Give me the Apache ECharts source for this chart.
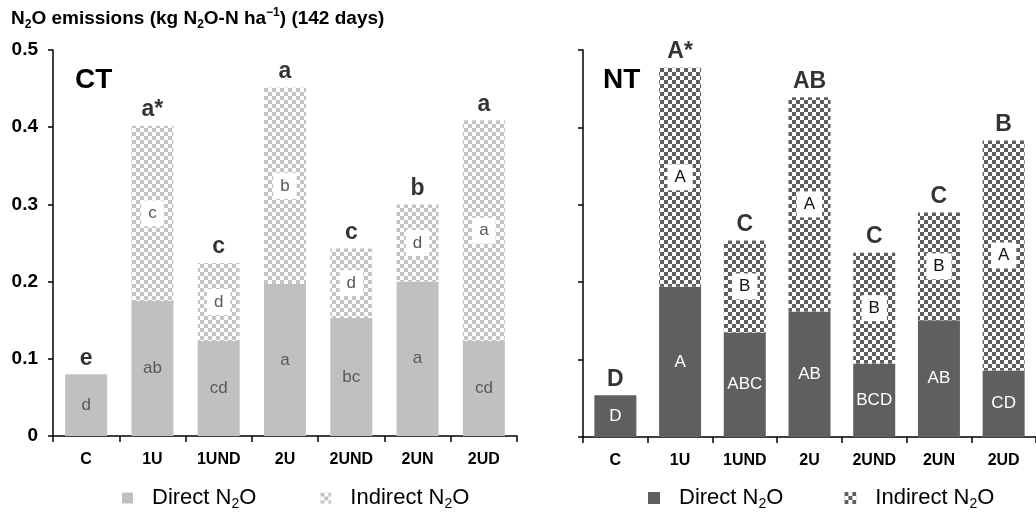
<!DOCTYPE html>
<html>
<head>
<meta charset="utf-8">
<script src="https://cdn.jsdelivr.net/npm/echarts@6/dist/echarts.min.js"></script>
<style>html,body{margin:0;padding:0;background:#fff}#c{width:1036px;height:518px}</style>
</head>
<body>
<div id="c"></div>
<script>
// ---- data ----
const categories = ['C', '1U', '1UND', '2U', '2UND', '2UN', '2UD'];
const ctDirect   = [0.080, 0.175, 0.123, 0.197, 0.153, 0.200, 0.123];
const ctIndirect = [null, 0.227, 0.101, 0.254, 0.090, 0.100, 0.286];
const ntDirect   = [0.054, 0.194, 0.135, 0.162, 0.095, 0.151, 0.086];
const ntIndirect = [null, 0.283, 0.119, 0.277, 0.143, 0.139, 0.297];
const ctTopLetters      = ['e', 'a*', 'c', 'a', 'c', 'b', 'a'];
const ctDirectLetters   = ['d', 'ab', 'cd', 'a', 'bc', 'a', 'cd'];
const ctIndirectLetters = ['', 'c', 'd', 'b', 'd', 'd', 'a'];
const ntTopLetters      = ['D', 'A*', 'C', 'AB', 'C', 'C', 'B'];
const ntDirectLetters   = ['D', 'A', 'ABC', 'AB', 'BCD', 'AB', 'CD'];
const ntIndirectLetters = ['', 'A', 'B', 'A', 'B', 'B', 'A'];
const yTickLabels = ['0', '0.1', '0.2', '0.3', '0.4', '0.5'];

const FONT = '"Liberation Sans", Arial, Helvetica, sans-serif';

function checker(color) {
  const c = document.createElement('canvas');
  c.width = 8; c.height = 8;
  const g = c.getContext('2d');
  g.fillStyle = '#ffffff'; g.fillRect(0, 0, 8, 8);
  g.fillStyle = color;
  g.fillRect(0, 0, 4, 4); g.fillRect(4, 4, 4, 4);
  return c;
}
const ctPattern = { image: checker('#c4c4c4'), repeat: 'repeat' };
const ntPattern = { image: checker('#5e5e5e'), repeat: 'repeat' };

const totals = (d, ind) => d.map((v, i) => v + (ind[i] || 0));

const chart = echarts.init(document.getElementById('c'), null, { renderer: 'canvas' });

function xAxis(gridIndex) {
  return {
    type: 'category', gridIndex, data: categories,
    axisLine: { lineStyle: { color: '#000', width: 1.5 } },
    axisTick: { show: true, length: 6, lineStyle: { color: '#000', width: 1.5 } },
    axisLabel: { color: '#000', fontFamily: FONT, fontWeight: 'bold', fontSize: 16, margin: 16 },
    splitLine: { show: false }
  };
}
function yAxis(gridIndex, showLabels) {
  return {
    type: 'value', gridIndex, min: 0, max: 0.5, interval: 0.1,
    axisLine: { show: true, lineStyle: { color: '#000', width: 1.5 } },
    axisTick: { show: true, length: 5, lineStyle: { color: '#000', width: 1.5 } },
    axisLabel: {
      show: showLabels, color: '#000', fontFamily: FONT, fontWeight: 'bold', fontSize: 19, margin: 15,
      formatter: (v) => yTickLabels[Math.round(v * 10)]
    },
    splitLine: { show: false }
  };
}
function barSeries(name, data, stack, idx, color, letters, textColor, boxed) {
  return {
    name, type: 'bar', stack, xAxisIndex: idx, yAxisIndex: idx, data, barWidth: 42,
    itemStyle: { color },
    label: Object.assign({
      show: true, position: 'inside', fontFamily: FONT, fontSize: 17, color: textColor,
      formatter: (p) => letters[p.dataIndex]
    }, boxed ? { backgroundColor: '#fff', padding: [5, 7, 4, 7] } : {}),
    emphasis: { disabled: true }, animation: false
  };
}
function topSeries(data, idx, letters) {
  return {
    type: 'scatter', xAxisIndex: idx, yAxisIndex: idx, data, symbolSize: 1,
    itemStyle: { color: 'rgba(0,0,0,0)' }, silent: true, z: 10,
    label: {
      show: true, position: 'top', distance: 4, fontFamily: FONT, fontWeight: 'bold', fontSize: 23, color: '#000',
      formatter: (p) => letters[p.dataIndex]
    },
    animation: false
  };
}
const legendText = {
  fontFamily: FONT, fontSize: 22, color: '#000', lineHeight: 26, padding: [0, 0, 0, 14],
  rich: { s: { fontFamily: FONT, fontSize: 14, lineHeight: 14, verticalAlign: 'bottom' } }
};
const legendFmt = (n) => (n.indexOf('Indirect') >= 0 ? 'Indirect N{s|2}O' : 'Direct N{s|2}O');

chart.setOption({
  backgroundColor: '#fff',
  animation: false,
  grid: [
    { left: 53, right: 519, top: 50, bottom: 82 },
    { left: 583, right: -11, top: 50, bottom: 81 }
  ],
  xAxis: [xAxis(0), xAxis(1)],
  yAxis: [yAxis(0, true), yAxis(1, false)],
  legend: [
    { data: ['CT Direct', 'CT Indirect'], left: 122, top: 485, padding: 0, itemWidth: 11, itemHeight: 11, itemGap: 64,
      icon: 'rect', selectedMode: false, formatter: legendFmt, textStyle: legendText },
    { data: ['NT Direct', 'NT Indirect'], left: 648, top: 485, padding: 0, itemWidth: 12, itemHeight: 12, itemGap: 61,
      icon: 'rect', selectedMode: false, formatter: legendFmt, textStyle: legendText }
  ],
  graphic: [
    { type: 'text', left: 11, top: 7, style: {
        text: 'N{s|2}O emissions (kg N{s|2}O-N ha{p|−1}) (142 days)',
        fontFamily: FONT, fontWeight: 'bold', fontSize: 19, fill: '#000', lineHeight: 24,
        rich: {
          s: { fontFamily: FONT, fontWeight: 'bold', fontSize: 12, lineHeight: 12, verticalAlign: 'bottom' },
          p: { fontFamily: FONT, fontWeight: 'bold', fontSize: 12, lineHeight: 12, verticalAlign: 'top' }
        } } },
    { type: 'text', left: 75, top: 66, style: { text: 'CT', fontFamily: FONT, fontWeight: 'bold', fontSize: 28, fill: '#000' } },
    { type: 'text', left: 603, top: 66, style: { text: 'NT', fontFamily: FONT, fontWeight: 'bold', fontSize: 28, fill: '#000' } }
  ],
  series: [
    barSeries('CT Direct', ctDirect, 'ct', 0, '#c0c0c0', ctDirectLetters, '#595959', false),
    barSeries('CT Indirect', ctIndirect, 'ct', 0, ctPattern, ctIndirectLetters, '#595959', true),
    topSeries(totals(ctDirect, ctIndirect), 0, ctTopLetters),
    barSeries('NT Direct', ntDirect, 'nt', 1, '#5f5f5f', ntDirectLetters, '#ffffff', false),
    barSeries('NT Indirect', ntIndirect, 'nt', 1, ntPattern, ntIndirectLetters, '#111111', true),
    topSeries(totals(ntDirect, ntIndirect), 1, ntTopLetters)
  ]
});
</script>
</body>
</html>
